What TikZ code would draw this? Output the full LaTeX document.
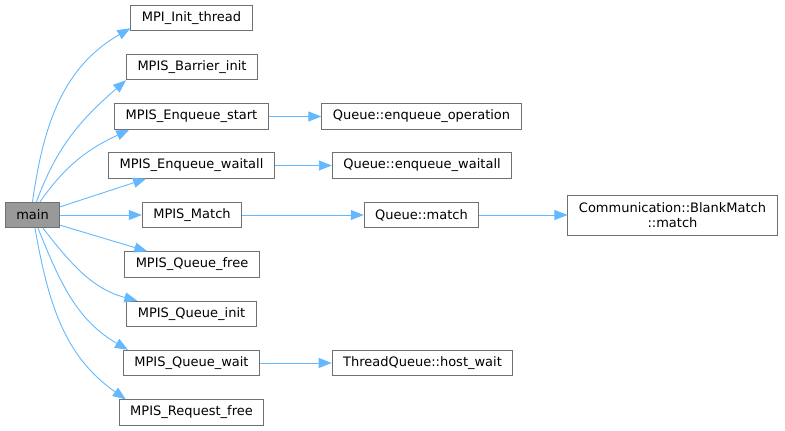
\documentclass[tikz,border=0pt]{standalone}
\usepackage{fontspec}
\setmainfont{DejaVu Sans}
\usetikzlibrary{arrows.meta}
\definecolor{edgeblue}{HTML}{63B8FF}
\definecolor{boxgray}{HTML}{707070}
\definecolor{maingray}{HTML}{999999}
\tikzset{
    calltip/.tip={Triangle[length=13pt,width=10pt]},
    fnbox/.style={draw=boxgray,line width=0.9pt,rectangle,fill=white,inner xsep=11pt,inner ysep=0pt,minimum height=25.5pt,align=center,font=\fontsize{13}{15}\selectfont},
    mainbox/.style={fnbox,fill=maingray},
    every edge/.append style={draw=edgeblue,line width=0.9pt,-calltip},
}

\begin{document}
\begin{tikzpicture}[x=1pt,y=-1pt]
    \useasboundingbox (0,0) rectangle (785,431);

    \node[mainbox] (main) at (32.5, 215) {main};

    \node[fnbox] (init)     at (191.5,  18)   {MPI\_Init\_thread};
    \node[fnbox] (barrier)  at (192,    67)   {MPIS\_Barrier\_init};
    \node[fnbox] (enqstart) at (191.5, 116.5) {MPIS\_Enqueue\_start};
    \node[fnbox] (enqwait)  at (191.5, 165.5) {MPIS\_Enqueue\_waitall};
    \node[fnbox] (match)    at (192,   215)   {MPIS\_Match};
    \node[fnbox] (qfree)    at (192,   264.5) {MPIS\_Queue\_free};
    \node[fnbox] (qinit)    at (191.5, 314)   {MPIS\_Queue\_init};
    \node[fnbox] (qwait)    at (191.5, 363)   {MPIS\_Queue\_wait};
    \node[fnbox] (reqfree)  at (191.5, 412.5) {MPIS\_Request\_free};

    \node[fnbox] (enqop)    at (421.5, 116.5) {Queue::enqueue\_operation};
    \node[fnbox] (enqall)   at (422,   165.5) {Queue::enqueue\_waitall};
    \node[fnbox] (qmatch)   at (421.5, 215)   {Queue::match};
    \node[fnbox,minimum height=40pt] (blank) at (672.5, 215) {Communication::BlankMatch\\::match};
    \node[fnbox] (hostwait) at (422.5, 363)   {ThreadQueue::host\_wait};

    % calls out of main
    \path (main.north)                edge[out=82,in=210]  ([yshift=3pt]init.south west)
          ([xshift=4pt]main.north)    edge[out=70,in=221]  (barrier.south west)
          ([xshift=7.5pt]main.north)  edge[out=55,in=205]  ([xshift=15pt]enqstart.south west)
          ([yshift=-5pt]main.north east) edge ([xshift=38pt]enqwait.south west)
          (main)                      edge (match)
          ([yshift=3pt]main.south east)  edge ([xshift=23pt]qfree.north west)
          ([xshift=10.5pt]main.south) edge[out=-52,in=165] ([xshift=11pt]qinit.north west)
          ([xshift=5.5pt]main.south)  edge[out=-68,in=150] ([xshift=5pt]qwait.north west)
          ([xshift=2.5pt]main.south)  edge[out=-80,in=145] ([xshift=7pt]reqfree.north west);

    % further calls
    \path (enqstart) edge (enqop)
          (enqwait)  edge (enqall)
          (match)    edge (qmatch)
          (qmatch)   edge (blank)
          (qwait)    edge (hostwait);
\end{tikzpicture}
\end{document}
